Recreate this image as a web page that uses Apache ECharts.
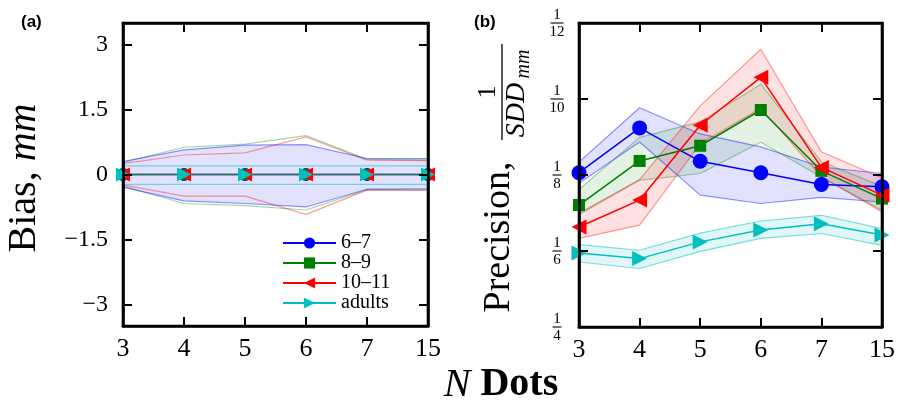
<!DOCTYPE html>
<html><head><meta charset="utf-8">
<script src="https://cdn.jsdelivr.net/npm/echarts@6/dist/echarts.min.js"></script>
<style>html,body{margin:0;padding:0;background:#fff}#c{width:898px;height:405px}</style>
</head><body><div id="c"></div>
<script>
// ---------- data ----------
const categories = ['3', '4', '5', '6', '7', '15'];
const groupNames = ['6–7', '8–9', '10–11', 'adults'];

// Panel (a): bias, mm
const bias67 = [0, 0, 0, 0, 0, 0];
const bias89 = [0, 0, 0, 0, 0, 0];
const bias1011 = [0, 0, 0, 0, 0, 0];
const biasAdult = [0, 0, 0, 0, 0, 0];
const bias67Upper = [0.30, 0.57, 0.68, 0.69, 0.37, 0.37];
const bias67Lower = [-0.29, -0.61, -0.67, -0.75, -0.34, -0.33];
const bias89Upper = [0.28, 0.63, 0.70, 0.90, 0.35, 0.34];
const bias89Lower = [-0.27, -0.67, -0.72, -0.82, -0.35, -0.35];
const bias1011Upper = [0.25, 0.45, 0.50, 0.87, 0.33, 0.32];
const bias1011Lower = [-0.24, -0.50, -0.50, -0.92, -0.36, -0.37];
const biasAdultUpper = [0.20, 0.20, 0.20, 0.20, 0.20, 0.20];
const biasAdultLower = [-0.23, -0.23, -0.23, -0.23, -0.23, -0.23];
const biasTicks = [-3, -1.5, 0, 1.5, 3];

// Panel (b): SDD in mm (axis labelled as precision 1/SDD)
const sdd67 = [8.06, 9.24, 8.36, 8.06, 7.75, 7.69];
const sdd67Upper = [8.34, 9.77, 9.08, 8.74, 8.21, 8.04];
const sdd67Lower = [7.78, 8.87, 7.47, 7.25, 7.41, 7.29];
const sdd89 = [7.21, 8.37, 8.77, 9.71, 8.11, 7.38];
const sdd89Upper = [7.62, 8.99, 9.40, 10.39, 8.35, 7.70];
const sdd89Lower = [6.96, 7.86, 8.04, 8.86, 7.95, 7.07];
const sdd1011 = [6.63, 7.34, 9.31, 10.57, 8.20, 7.47];
const sdd1011Upper = [6.99, 7.88, 9.82, 11.31, 8.61, 7.92];
const sdd1011Lower = [6.33, 6.68, 8.82, 9.76, 7.95, 7.03];
const sddAdult = [5.95, 5.80, 6.24, 6.55, 6.72, 6.42];
const sddAdultUpper = [6.17, 6.02, 6.47, 6.79, 6.94, 6.59];
const sddAdultLower = [5.71, 5.54, 5.99, 6.33, 6.46, 6.15];
const sddTicks = [4, 6, 8, 10, 12];
const sddTickMin = 4, sddTickMax = 12, sddTickStep = 2;

// ---------- styles ----------
const SERIF = 'Liberation Serif';
const lineColors = ['#0000ff', '#008000', '#ff0000', '#00bfbf'];
const fillColors = ['rgba(0,0,255,0.16)', 'rgba(0,128,0,0.15)', 'rgba(255,0,0,0.17)', 'rgba(0,191,191,0.17)'];
const edgeColors = ['rgba(0,0,255,0.42)', 'rgba(0,128,0,0.35)', 'rgba(255,0,0,0.38)', 'rgba(0,191,191,0.5)'];
const symbols = ['circle', 'rect', 'triangle', 'triangle'];
const symbolRot = [0, 0, 90, -90];
const symSizeB = [15, 12, 15, 15];
const symSizeA = [13, 11, 14, 14];

const biasMeans = [bias67, bias89, bias1011, biasAdult];
const biasUps = [bias67Upper, bias89Upper, bias1011Upper, biasAdultUpper];
const biasLows = [bias67Lower, bias89Lower, bias1011Lower, biasAdultLower];
const sddMeans = [sdd67, sdd89, sdd1011, sddAdult];
const sddUps = [sdd67Upper, sdd89Upper, sdd1011Upper, sddAdultUpper];
const sddLows = [sdd67Lower, sdd89Lower, sdd1011Lower, sddAdultLower];

const series = [];
// panel (b) main lines (first so the legend uses them)
groupNames.forEach((name, i) => {
  series.push({
    name, type: 'line', xAxisIndex: 2, yAxisIndex: 2, data: sddMeans[i],
    symbol: symbols[i], symbolSize: symSizeB[i], symbolRotate: symbolRot[i],
    lineStyle: { color: lineColors[i], width: 1.5 }, itemStyle: { color: lineColors[i] },
    clip: false, z: 6 + i, emphasis: { disabled: true }, silent: true
  });
});
function band(xa, ya, lower, upper, i, id, fillCol) {
  series.push({
    type: 'line', xAxisIndex: xa, yAxisIndex: ya, data: lower, stack: id, stackStrategy: 'all',
    symbol: 'none', lineStyle: { color: edgeColors[i], width: 1.2 }, z: 2, silent: true,
    emphasis: { disabled: true }
  });
  const s = {
    type: 'line', xAxisIndex: xa, yAxisIndex: ya, data: upper.map((u, k) => +(u - lower[k]).toFixed(4)),
    stack: id, stackStrategy: 'all',
    symbol: 'none', lineStyle: { color: edgeColors[i], width: 1.2 },
    z: 2, silent: true, emphasis: { disabled: true }
  };
  if (fillCol) s.areaStyle = { color: fillCol };
  series.push(s);
}
groupNames.forEach((n, i) => band(2, 2, sddLows[i], sddUps[i], i, 'b' + i, fillColors[i]));
[2, 1, 3, 0].forEach(i => band(0, 0, biasLows[i], biasUps[i], i, 'a' + i, i === 0 ? 'rgba(0,0,255,0.16)' : null));
// panel (a) zero line
series.push({
  type: 'line', xAxisIndex: 0, yAxisIndex: 0, data: biasAdult, symbol: 'none',
  lineStyle: { color: '#336c6c', width: 2 }, z: 3, silent: true, emphasis: { disabled: true }
});
// panel (a) markers
groupNames.forEach((name, i) => {
  series.push({
    name, type: 'scatter', xAxisIndex: 0, yAxisIndex: 0, data: biasMeans[i],
    symbol: symbols[i], symbolSize: symSizeA[i], symbolRotate: symbolRot[i],
    itemStyle: { color: lineColors[i], opacity: 1 },
    clip: false, z: 4 + i, emphasis: { disabled: true }, silent: true
  });
});

const axLine = () => ({ show: true, onZero: false, lineStyle: { color: '#000', width: 2.6 } });
const tick = (extra) => Object.assign({ show: true, inside: true, length: 9, lineStyle: { color: '#000', width: 2 } }, extra || {});
function xAx(grid, pos, labels) {
  return {
    type: 'category', gridIndex: grid, position: pos, data: categories, boundaryGap: false,
    axisLine: axLine(), axisTick: tick({ interval: 0 }),
    axisLabel: { show: labels, interval: 0, color: '#000', fontFamily: SERIF, fontSize: 26, margin: 10 },
    splitLine: { show: false }, z: 10
  };
}
const biasFmt = v => (v < 0 ? '\u2212' + Math.abs(v) : String(v));
function yAxA(pos, labels) {
  return {
    type: 'value', gridIndex: 0, position: pos, min: -3.5, max: 3.5,
    axisLine: axLine(), axisTick: tick({ customValues: biasTicks.slice() }),
    axisLabel: { show: labels, customValues: biasTicks.slice(), formatter: biasFmt, color: '#000', fontFamily: SERIF, fontSize: 24, margin: 15 },
    splitLine: { show: false }, z: 10
  };
}
function yAxB(pos) {
  return {
    type: 'value', gridIndex: 1, position: pos, min: sddTickMin, max: sddTickMax, interval: sddTickStep,
    axisLine: axLine(), axisTick: tick(), axisLabel: { show: false },
    splitLine: { show: false }, z: 10
  };
}

const txt = (x, y, text, rich, rot) => ({
  type: 'text', x, y, rotation: rot || 0, silent: true,
  style: { text, rich, fill: '#000', align: 'center', verticalAlign: 'middle', textAlign: 'center', textVerticalAlign: 'middle' }
});
const plain = (x, y, text, font) => ({
  type: 'text', x, y, silent: true,
  style: { text, font, fill: '#000', align: 'center', verticalAlign: 'middle', textAlign: 'center', textVerticalAlign: 'middle' }
});

const staticGraphic = [
  { type: 'text', x: 21, y: 22, silent: true, style: { text: '(a)', font: 'bold 17px "Liberation Sans"', fill: '#000', verticalAlign: 'middle', textVerticalAlign: 'middle' } },
  { type: 'text', x: 474, y: 22, silent: true, style: { text: '(b)', font: 'bold 17px "Liberation Sans"', fill: '#000', verticalAlign: 'middle', textVerticalAlign: 'middle' } },
  txt(24, 178, '{r|Bias, }{i|mm}', {
    r: { fontFamily: SERIF, fontSize: 40 },
    i: { fontFamily: SERIF, fontSize: 40, fontStyle: 'italic' }
  }, Math.PI / 2),
  txt(499, 237, '{r|Precision,}', { r: { fontFamily: SERIF, fontSize: 38 } }, Math.PI / 2),
  {
    type: 'group', x: 502, y: 92, rotation: Math.PI / 2, silent: true,
    children: [
      plain(0, -14, '1', '26px "Liberation Serif"'),
      { type: 'line', shape: { x1: -48, y1: 0, x2: 48, y2: 0 }, style: { stroke: '#000', lineWidth: 1.3 } },
      plain(-18, 15, 'SDD', 'italic 28px "Liberation Serif"'),
      plain(28, 22, 'mm', 'italic 20px "Liberation Serif"')
    ]
  },
  txt(501, 385, '{i|N }{b|Dots}', {
    i: { fontFamily: SERIF, fontSize: 40, fontStyle: 'italic' },
    b: { fontFamily: SERIF, fontSize: 40, fontWeight: 'bold' }
  }, 0)
];

const option = {
  animation: false,
  backgroundColor: '#fff',
  grid: [
    { left: 123, top: 23, width: 305, height: 303, show: true, borderColor: '#000', borderWidth: 2.6, backgroundColor: 'transparent' },
    { left: 579, top: 23, width: 305, height: 304, show: true, borderColor: '#000', borderWidth: 2.6, backgroundColor: 'transparent' }
  ],
  xAxis: [xAx(0, 'bottom', true), xAx(0, 'top', false), xAx(1, 'bottom', true), xAx(1, 'top', false)],
  yAxis: [yAxA('left', true), yAxA('right', false), yAxB('left'), yAxB('right')],
  legend: {
    orient: 'vertical', left: 277, top: 228, itemWidth: 53, itemHeight: 14, itemGap: 0,
    data: groupNames, selectedMode: false,
    textStyle: { fontFamily: SERIF, fontSize: 20, lineHeight: 20, color: '#000' }
  },
  series,
  graphic: staticGraphic
};
const chart = echarts.init(document.getElementById('c'), null, { renderer: 'canvas' });
chart.setOption(option);

// fraction tick labels 1/SDD for panel (b), placed with the axis scale
const x0 = chart.convertToPixel({ xAxisIndex: 2 }, categories[0]);
const fracGraphic = [];
sddTicks.forEach(v => {
  const y = chart.convertToPixel({ yAxisIndex: 2 }, v);
  const cx = x0 - 22;
  const w = v >= 10 ? 13 : 9;
  fracGraphic.push(plain(cx, y - 8, '1', '15px "Liberation Serif"'));
  fracGraphic.push({ type: 'line', silent: true, shape: { x1: cx - w / 2, y1: y, x2: cx + w / 2, y2: y }, style: { stroke: '#000', lineWidth: 1.1 } });
  fracGraphic.push(plain(cx, y + 9, String(v), '15px "Liberation Serif"'));
});
chart.setOption({ graphic: staticGraphic.concat(fracGraphic) });
</script>
</body></html>
